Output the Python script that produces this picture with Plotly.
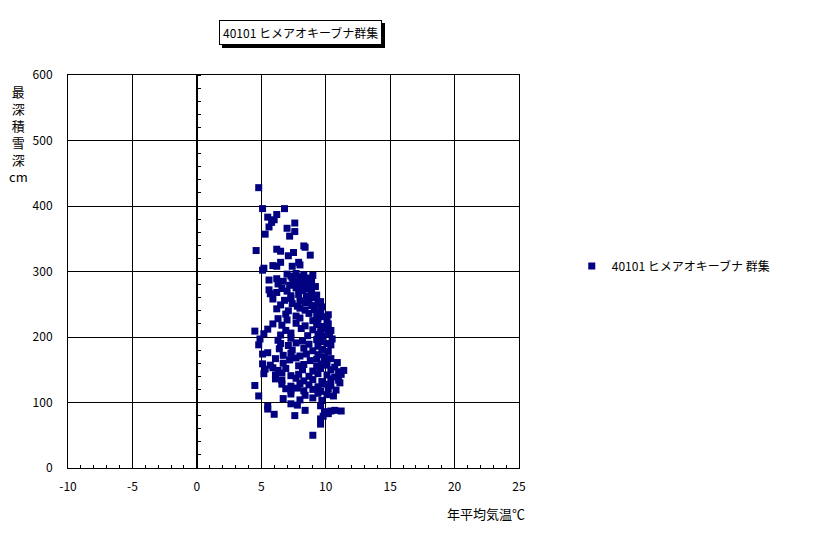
import plotly.graph_objects as go

# ---- data (annual mean temperature °C, max snow depth cm) ----
temp = [
    4.8, 5.1, 6.8, 5.5, 6.2, 6.0, 5.8, 7.6, 5.6, 7.0, 7.6, 5.3, 7.2, 8.3, 8.4, 4.6, 6.2, 6.5, 7.5, 7.1,
    8.8, 6.5, 7.9, 5.9, 6.2, 7.4, 5.2, 5.1, 8.0,
    7.0, 7.3, 7.7, 8.0, 8.3, 8.6, 9.0,
    5.6, 6.2, 6.7, 7.4, 7.8, 8.2, 8.5, 8.9,
    6.3, 7.2, 7.5, 8.0, 8.4, 8.9, 9.2,
    5.6, 6.6, 7.0, 7.7, 8.2, 8.7,
    5.7, 6.2, 7.3, 7.9, 8.5, 8.9, 9.3,
    5.9, 6.8, 7.3, 8.0, 8.7, 9.1, 9.6,
    6.5, 7.4, 7.8, 8.4, 8.9, 9.4, 9.7,
    6.2, 7.1, 8.0, 8.4, 9.1, 9.6,
    6.9, 7.7, 8.7, 9.3, 9.8, 10.2,
    6.3, 7.0, 8.0, 9.0, 9.4, 10.1,
    5.9, 6.6, 7.7, 8.4, 9.3, 9.7, 10.2,
    4.5, 5.5, 6.9, 8.1, 9.0, 9.6, 10.1, 10.4,
    5.2, 6.5, 7.3, 8.6, 9.4, 9.8, 10.3,
    4.9, 6.3, 7.3, 8.2, 9.3, 9.6, 10.5,
    4.8, 6.5, 7.1, 7.7, 8.7, 9.4, 10.1, 10.4,
    6.4, 7.4, 8.3, 9.0, 9.7, 10.2,
    5.1, 5.5, 6.7, 7.3, 8.0, 8.5, 9.4, 9.9,
    6.1, 7.2, 7.7, 8.8, 9.3, 9.9, 10.4, 10.9,
    5.1, 5.7, 6.7, 7.9, 8.3, 9.3, 9.7, 10.1, 10.7,
    5.3, 5.9, 6.3, 6.9, 8.2, 9.0, 9.6, 10.4, 11.0, 11.4,
    5.2, 6.1, 6.6, 7.3, 7.9, 8.7, 9.4, 10.1, 10.7, 11.2,
    6.1, 6.6, 7.7, 8.3, 9.0, 9.7, 10.4, 11.0,
    4.5, 6.6, 7.3, 8.0, 8.7, 9.4, 9.9, 10.4, 11.1,
    6.9, 7.3, 7.8, 8.3, 9.0, 9.6, 10.2, 10.8,
    4.8, 7.3, 8.4, 9.4, 10.1, 10.6,
    6.7, 8.0, 9.0, 9.7,
    5.5, 7.3, 7.8, 9.6,
    5.5, 8.4, 9.9, 10.4, 10.7, 11.2,
    6.0, 7.6, 9.8, 10.2,
    9.6, 9.6, 9.0,
]
depth = [
    428, 396, 396, 383, 387, 379, 375, 374, 368, 366, 361, 357, 354, 339, 337, 332, 334, 331, 329, 324,
    325, 314, 314, 309, 308, 308, 305, 302, 310,
    296, 293, 297, 292, 295, 290, 294,
    287, 289, 285, 290, 286, 288, 284, 289,
    281, 279, 282, 278, 280, 283, 277,
    272, 274, 270, 275, 271, 273,
    266, 268, 263, 265, 262, 267, 264,
    258, 256, 259, 255, 257, 260, 254,
    249, 251, 247, 252, 248, 250, 246,
    243, 240, 244, 241, 242, 239,
    235, 232, 236, 233, 231, 234,
    228, 226, 229, 225, 227, 224,
    220, 218, 221, 217, 219, 216, 220,
    209, 212, 210, 213, 211, 208, 212, 210,
    205, 203, 206, 202, 204, 201, 205,
    197, 195, 198, 194, 196, 193, 197,
    188, 190, 187, 191, 189, 186, 190, 188,
    182, 180, 183, 179, 181, 178,
    174, 176, 172, 175, 171, 174, 173, 170,
    167, 165, 168, 164, 166, 163, 167, 161,
    159, 157, 160, 156, 158, 155, 159, 157, 154,
    151, 153, 149, 152, 150, 148, 152, 150, 147, 149,
    144, 142, 145, 141, 143, 140, 144, 142, 139, 143,
    136, 134, 137, 133, 135, 132, 136, 134,
    126, 128, 125, 129, 127, 124, 128, 126, 130,
    121, 119, 122, 118, 120, 117, 121, 119,
    110, 113, 111, 114, 112, 110,
    106, 104, 107, 103,
    94, 98, 96, 95,
    90, 88, 86, 87, 88, 87,
    82, 80, 79, 83,
    75, 67, 50,
]
x_ticks = [-10, -5, 0, 5, 10, 15, 20, 25]
y_ticks = [0, 100, 200, 300, 400, 500, 600]
series_name = "40101 ヒメアオキーブナ 群集"
chart_title = "40101 ヒメアオキーブナ群集"
x_title = "年平均気温℃"
y_title = "最<br>深<br>積<br>雪<br>深<br>cm"

FONT = "Noto Sans CJK JP"
NAVY = "#000080"
PLOT_W = 451

fig = go.Figure()
fig.add_trace(go.Scatter(
    x=temp, y=depth, mode="markers", name=series_name,
    marker=dict(symbol="square", size=7, color=NAVY, line=dict(width=0)),
))
# helper trace so the crossing axis at x=0 (with minor ticks) is drawn
fig.add_trace(go.Scatter(x=[None], y=[None], yaxis="y2", showlegend=False, hoverinfo="skip"))

title_font = dict(family=FONT, size=12, color="black")

fig.update_layout(
    width=808, height=526,
    margin=dict(l=60, r=297, t=67, b=66),
    paper_bgcolor="white", plot_bgcolor="white",
    font=dict(family=FONT, size=12, color="black"),
    showlegend=True,
    legend=dict(x=1.117, xanchor="left", y=0.514, yanchor="middle",
                font=dict(family=FONT, size=12, color="black"),
                bgcolor="rgba(0,0,0,0)", borderwidth=0),
    xaxis=dict(
        range=[-10, 25], tickvals=x_ticks, ticktext=[str(v) for v in x_ticks],
        showgrid=True, gridcolor="black", gridwidth=1,
        showline=True, linecolor="black", linewidth=1, mirror=True,
        ticks="inside", ticklen=3, tickcolor="black",
        minor=dict(dtick=1, ticks="inside", ticklen=3, tickcolor="black", showgrid=False),
        zeroline=False,
        ticklabelstandoff=8,
        tickfont=dict(family=FONT, size=12),
    ),
    yaxis=dict(
        range=[0, 600], tickvals=y_ticks, ticktext=[str(v) for v in y_ticks],
        showgrid=True, gridcolor="black", gridwidth=1,
        showline=True, linecolor="black", linewidth=1, mirror=True,
        ticks="", zeroline=False, ticklabelstandoff=12,
        tickfont=dict(family=FONT, size=12),
    ),
    yaxis2=dict(
        range=[0, 600], overlaying="y", anchor="free", side="left",
        position=128.5 / PLOT_W,
        showgrid=False, showticklabels=False, zeroline=False,
        showline=True, linecolor="black", linewidth=1,
        tickvals=[], ticks="",
        minor=dict(dtick=20, ticks="inside", ticklen=3, tickcolor="black", showgrid=False),
    ),
    annotations=[
        # drop shadow of the title box
        dict(text=chart_title, xref="paper", yref="paper", x=0.5166, y=1.108,
             xanchor="center", yanchor="middle", showarrow=False, xshift=3, yshift=-3,
             bgcolor="black", bordercolor="black", borderwidth=1, borderpad=3,
             font=dict(family=FONT, size=12, color="black")),
        dict(text=chart_title, xref="paper", yref="paper", x=0.5166, y=1.108,
             xanchor="center", yanchor="middle", showarrow=False,
             bgcolor="white", bordercolor="black", borderwidth=1, borderpad=3,
             font=title_font),
        dict(text=y_title, xref="paper", yref="paper", x=-0.1098, y=0.988,
             xanchor="center", yanchor="top", showarrow=False, align="center",
             font=dict(family=FONT, size=13, color="black")),
        dict(text=x_title, xref="paper", yref="paper", x=1.018, y=-0.1158,
             xanchor="right", yanchor="middle", showarrow=False,
             font=dict(family=FONT, size=13, color="black")),
    ],
)

fig.write_html("out.html")
